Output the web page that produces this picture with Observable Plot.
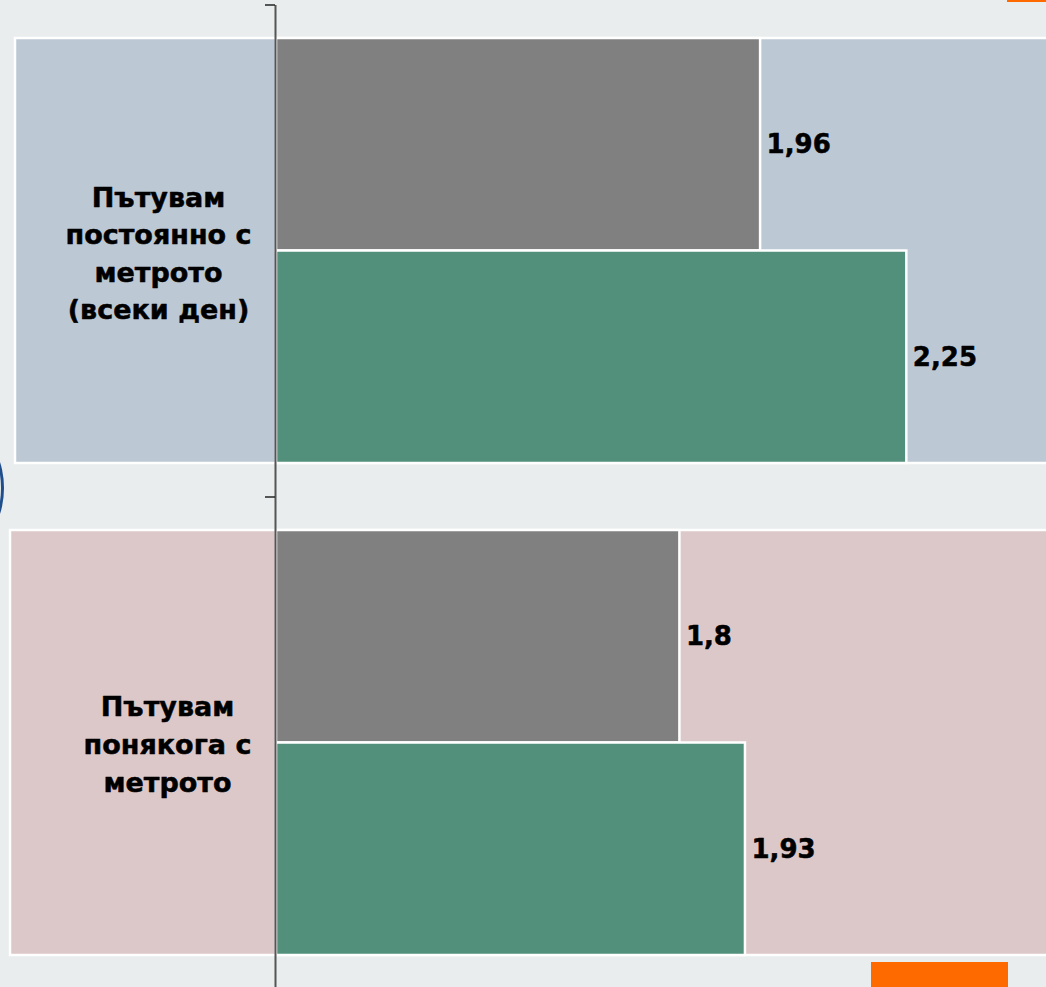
<!DOCTYPE html>
<html>
<head>
<meta charset="utf-8">
<script src="https://cdn.jsdelivr.net/npm/d3@7"></script>
<script src="https://cdn.jsdelivr.net/npm/@observablehq/plot@0.6"></script>
<style>
  html, body { margin: 0; padding: 0; background: #e9eded; }
  #wrap { position: relative; width: 1046px; height: 987px; overflow: hidden; }
  .deco { position: absolute; }
</style>
</head>
<body>
<div id="wrap">
  <div id="chart"></div>
  <div class="deco" style="left:1007px;top:0;width:39px;height:2px;background:#ff6a00"></div>
  <div class="deco" style="left:871px;top:962px;width:137px;height:25px;background:#ff6a00"></div>
  <div class="deco" style="left:-46px;top:440px;width:44px;height:90px;border:3px solid #1f4e8c;border-radius:50%"></div>
</div>
<script>
// ---- data ----
const categories = [
  "Пътувам постоянно с метрото (всеки ден)",
  "Пътувам понякога с метрото"
];
const categoryLabels = [
  "Пътувам\nпостоянно с\nметрото\n(всеки ден)",
  "Пътувам\nпонякога с\nметрото"
];
const seriesGray = [1.96, 1.8];
const seriesGreen = [2.25, 1.93];
const xDomain = [1, 2.527];

// ---- build tables ----
const grayRows = categories.map((c, i) => ({cat: c, value: seriesGray[i]}));
const greenRows = categories.map((c, i) => ({cat: c, value: seriesGreen[i]}));
const labelRows = categories.map((c, i) => ({cat: c, label: categoryLabels[i]}));
const fmt = v => String(v).replace(".", ",");

const step = 492;
const bw = 425;
const font = "'DejaVu Sans', Verdana, sans-serif";

const chart = Plot.plot({
  width: 1046,
  height: 987,
  margin: 0,
  style: {background: "#e9eded", fontFamily: font, overflow: "visible"},
  x: {domain: xDomain, range: [276, 1046], axis: null},
  y: {domain: categories, range: [5, 989], paddingInner: 0.136, paddingOuter: 0.068, axis: null},
  marks: [
    // category background bands
    Plot.barX([labelRows[0]], {y: "cat", x1: xDomain[0], x2: xDomain[1], fill: "#bcc8d4", stroke: "white", strokeWidth: 2.5, insetLeft: -261, insetRight: -10}),
    Plot.barX([labelRows[1]], {y: "cat", x1: xDomain[0], x2: xDomain[1], fill: "#ddc8c9", stroke: "white", strokeWidth: 2.5, insetLeft: -266, insetRight: -10}),
    // bars
    Plot.barX(grayRows, {y: "cat", x1: xDomain[0], x2: "value", fill: "#808080", stroke: "white", strokeWidth: 2.5, insetBottom: bw / 2}),
    Plot.barX(greenRows, {y: "cat", x1: xDomain[0], x2: "value", fill: "#52907c", stroke: "white", strokeWidth: 2.5, insetTop: bw / 2}),
    // axis line
    Plot.ruleX([xDomain[0]], {stroke: "#555", strokeWidth: 2, insetTop: 5, dx: -1}),
    // tick marks between categories
    Plot.ruleY(categories, {y: d => d, dy: -step / 2, stroke: "#222", strokeWidth: 1.5, insetLeft: 265, insetRight: 771}),
    // category labels
    Plot.text([labelRows[0]], {y: "cat", text: "label", frameAnchor: "left", dx: 158, dy: 0, textAnchor: "middle", lineHeight: 1.39, fontSize: 27, fontWeight: "bold", fill: "black", stroke: "black", strokeWidth: 0.5}),
    Plot.text([labelRows[1]], {y: "cat", text: "label", frameAnchor: "left", dx: 167, dy: -1, textAnchor: "middle", lineHeight: 1.39, fontSize: 27, fontWeight: "bold", fill: "black", stroke: "black", strokeWidth: 0.5}),
    // value labels
    Plot.text(grayRows, {y: "cat", x: "value", text: d => fmt(d.value), dy: -bw / 4, dx: 6, textAnchor: "start", fontSize: 26, fontWeight: "bold", fill: "black", stroke: "black", strokeWidth: 0.5}),
    Plot.text(greenRows, {y: "cat", x: "value", text: d => fmt(d.value), dy: bw / 4, dx: 6, textAnchor: "start", fontSize: 26, fontWeight: "bold", fill: "black", stroke: "black", strokeWidth: 0.5})
  ]
});
document.getElementById("chart").appendChild(chart);
</script>
</body>
</html>
